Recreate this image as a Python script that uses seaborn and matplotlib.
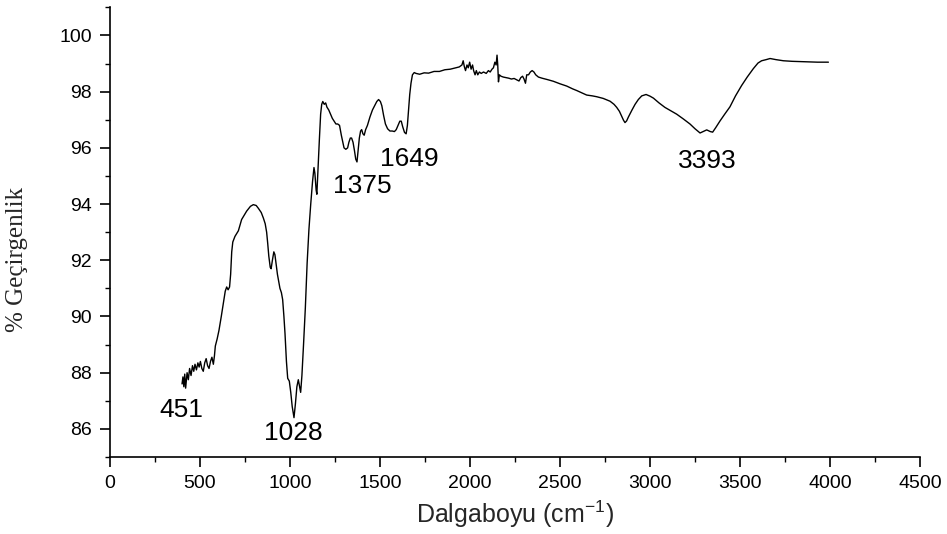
import matplotlib

matplotlib.use("Agg")
import matplotlib.pyplot as plt
import numpy as np
import pandas as pd
import seaborn as sns
from matplotlib.ticker import MultipleLocator

# Spectrum
wavenumber = [
    400, 405, 410, 415, 420, 428, 435, 442, 450, 458, 465, 472, 480, 488, 495,
    502, 510, 518, 526, 534, 542, 550, 558, 566, 574, 580, 585, 595, 605, 618,
    630, 640, 648, 656, 664, 670, 676, 682, 694, 713, 731, 759, 780, 796, 812,
    824, 840, 852, 862, 870, 876, 882, 890, 895, 902, 910, 916, 922, 930, 944,
    952, 959, 966, 972, 980, 987, 996, 1004, 1012, 1022, 1030, 1038, 1046, 1053,
    1059, 1066, 1075, 1085, 1095, 1105, 1115, 1125, 1133, 1138, 1145, 1149,
    1155, 1163, 1170, 1176, 1182, 1190, 1198, 1205, 1215, 1225, 1235, 1245,
    1255, 1265, 1275, 1285, 1293, 1300, 1310, 1320, 1327, 1335, 1342, 1350,
    1358, 1365, 1372, 1378, 1385, 1392, 1398, 1405, 1412, 1420, 1430, 1444,
    1458, 1470, 1482, 1492, 1502, 1510, 1520, 1530, 1542, 1555, 1568, 1580,
    1590, 1600, 1610, 1618, 1626, 1636, 1645, 1652, 1658, 1665, 1672, 1680,
    1690, 1700, 1720, 1745, 1770, 1800, 1830, 1860, 1890, 1920, 1940, 1955,
    1962, 1968, 1975, 1983, 1990, 1998, 2006, 2014, 2020, 2028, 2035, 2043,
    2052, 2062, 2075, 2090, 2102, 2112, 2122, 2130, 2138, 2145, 2150, 2154,
    2158, 2163, 2172, 2185, 2200, 2215, 2230, 2245, 2260, 2272, 2282, 2292,
    2300, 2308, 2315, 2325, 2335, 2345, 2355, 2365, 2380, 2400, 2430, 2463,
    2500, 2537, 2570, 2593, 2620, 2648, 2680, 2704, 2740, 2778, 2800, 2815,
    2830, 2843, 2853, 2861, 2870, 2880, 2900, 2917, 2935, 2954, 2978, 3000,
    3019, 3050, 3083, 3115, 3148, 3185, 3222, 3250, 3278, 3295, 3315, 3335,
    3348, 3365, 3389, 3415, 3444, 3475, 3509, 3540, 3574, 3600, 3620, 3645,
    3667, 3700, 3741, 3790, 3833, 3880, 3930, 3991,
]
transmittance = [
    87.6, 87.85, 87.5, 87.95, 87.45, 88.0, 87.75, 88.15, 87.9, 88.25, 88.05,
    88.3, 88.1, 88.35, 88.2, 88.4, 88.15, 88.05, 88.35, 88.5, 88.25, 88.15,
    88.4, 88.55, 88.3, 88.6, 88.95, 89.2, 89.5, 90.0, 90.5, 90.9, 91.05, 90.95,
    91.05, 91.5, 92.3, 92.65, 92.85, 93.05, 93.45, 93.75, 93.92, 93.98, 93.95,
    93.85, 93.7, 93.5, 93.3, 93.0, 92.6, 92.15, 91.75, 91.7, 92.0, 92.3, 92.2,
    91.9, 91.5, 91.0, 90.85, 90.6, 90.0, 89.4, 88.4, 87.8, 87.7, 87.3, 86.8,
    86.4, 86.9, 87.5, 87.75, 87.5, 87.3, 87.9, 89.0, 90.3, 91.9, 93.1, 94.0,
    94.8, 95.3, 95.1, 94.5, 94.35, 95.2, 96.3, 97.2, 97.55, 97.65, 97.55, 97.6,
    97.45, 97.35, 97.2, 97.05, 96.95, 96.85, 96.85, 96.8, 96.45, 96.2, 96.0,
    95.95, 96.0, 96.2, 96.35, 96.35, 96.2, 95.9, 95.6, 95.5, 95.9, 96.35,
    96.6, 96.65, 96.5, 96.45, 96.65, 96.8, 97.1, 97.35, 97.5, 97.65, 97.72,
    97.65, 97.5, 97.15, 96.85, 96.68, 96.6, 96.6, 96.58, 96.65, 96.8, 96.95,
    96.95, 96.75, 96.55, 96.5, 96.8, 97.3, 97.9, 98.3, 98.6, 98.68, 98.65,
    98.62, 98.67, 98.66, 98.72, 98.72, 98.78, 98.8, 98.85, 98.88, 98.95, 99.1,
    98.9, 98.75, 98.95, 98.85, 99.05, 98.8, 98.95, 98.75, 98.6, 98.75, 98.6,
    98.7, 98.65, 98.7, 98.65, 98.75, 98.7, 98.8, 98.85, 99.05, 98.95, 99.3,
    98.95, 98.35, 98.6, 98.55, 98.52, 98.5, 98.48, 98.45, 98.47, 98.42, 98.38,
    98.5, 98.55, 98.45, 98.3, 98.6, 98.6, 98.7, 98.75, 98.7, 98.6, 98.52,
    98.48, 98.43, 98.37, 98.28, 98.2, 98.1, 98.04, 97.96, 97.88, 97.85, 97.82,
    97.76, 97.66, 97.55, 97.44, 97.3, 97.12, 96.98, 96.9, 96.96, 97.1, 97.35,
    97.55, 97.72, 97.85, 97.9, 97.84, 97.77, 97.6, 97.44, 97.32, 97.2, 97.03,
    96.85, 96.68, 96.53, 96.58, 96.64, 96.58, 96.56, 96.72, 96.96, 97.2, 97.46,
    97.85, 98.22, 98.52, 98.82, 99.02, 99.1, 99.14, 99.18, 99.14, 99.1, 99.08,
    99.07, 99.06, 99.05, 99.05,
]

# Peak labels
peak_labels = ["451", "1028", "1375", "1649", "3393"]
label_x = [398, 1019, 1403, 1661, 3319]
label_y = [86.66, 85.86, 94.66, 95.6, 95.55]

sns.set_style("ticks")
plt.rcParams.update(
    {
        "font.family": ["Liberation Sans", "DejaVu Sans"],
        "mathtext.fontset": "custom",
        "mathtext.rm": "Liberation Sans",
        "mathtext.it": "Liberation Sans",
        "axes.linewidth": 1.2,
        "xtick.major.width": 1.2,
        "ytick.major.width": 1.2,
        "xtick.minor.width": 1.0,
        "ytick.minor.width": 1.0,
        "xtick.major.size": 7,
        "ytick.major.size": 7,
        "xtick.minor.size": 3.5,
        "ytick.minor.size": 3.5,
        "xtick.color": "black",
        "ytick.color": "black",
        "axes.edgecolor": "black",
    }
)

spectrum = pd.DataFrame({"Dalgaboyu": wavenumber, "Gecirgenlik": transmittance})

fig = plt.figure(figsize=(9.47, 5.34), dpi=100)
ax = fig.add_axes([0.1162, 0.1442, 0.8553, 0.842])
sns.lineplot(
    data=spectrum,
    x="Dalgaboyu",
    y="Gecirgenlik",
    color="black",
    linewidth=1.0,
    estimator=None,
    ax=ax,
)

for text, x, y in zip(peak_labels, label_x, label_y):
    ax.text(x, y, text, fontsize=19, ha="center", va="center", color="black")

ax.set_xlim(0, 4500)
ax.set_ylim(85, 101)
ax.xaxis.set_major_locator(MultipleLocator(500))
ax.xaxis.set_minor_locator(MultipleLocator(250))
ax.yaxis.set_major_locator(MultipleLocator(2))
ax.yaxis.set_minor_locator(MultipleLocator(1))
ax.set_yticks(np.arange(86, 101, 2))
ax.tick_params(axis="both", which="major", labelsize=14, pad=6)
ax.set_xlabel(r"Dalgaboyu (cm$^{-1}$)", fontsize=18, labelpad=5)
ax.set_ylabel(
    "% Geçirgenlik", fontsize=18, family=["Liberation Serif", "DejaVu Serif"]
)
ax.yaxis.set_label_coords(-0.101, 0.44)
sns.despine(ax=ax)

fig.savefig("out.png", dpi=100)
